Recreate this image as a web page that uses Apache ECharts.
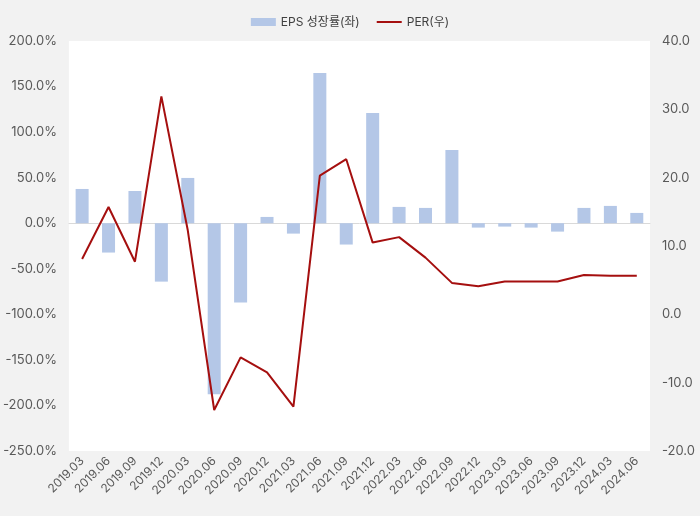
<!DOCTYPE html>
<html><head><meta charset="utf-8">
<script src="https://cdn.jsdelivr.net/npm/echarts@6/dist/echarts.min.js"></script>
<style>html,body{margin:0;padding:0;background:#f2f2f2}#c{width:700px;height:516px}</style>
</head><body><div id="c"></div>
<script>
const categories = ['2019.03','2019.06','2019.09','2019.12','2020.03','2020.06','2020.09','2020.12','2021.03','2021.06','2021.09','2021.12','2022.03','2022.06','2022.09','2022.12','2023.03','2023.06','2023.09','2023.12','2024.03','2024.06'];
const epsGrowth = [37.6,-32.2,35.4,-64.1,49.7,-187.7,-87.1,6.9,-11.4,165.0,-23.4,121.0,17.9,16.8,80.5,-4.8,-3.7,-4.8,-9.2,16.8,19.0,11.3];
const per = [8.1,15.7,7.7,31.9,12.3,-14.0,-6.3,-8.5,-13.5,20.3,22.7,10.5,11.3,8.3,4.6,4.1,4.8,4.8,4.8,5.75,5.65,5.65];
const leftTicks = {min:-250, max:200, interval:50};
const rightTicks = {min:-20, max:40, interval:10};

const chart = echarts.init(document.getElementById('c'));
const font = 'Inter, "Noto Sans CJK KR", sans-serif';
chart.setOption({
  backgroundColor:'#f2f2f2',
  textStyle:{fontFamily:font},
  legend:{top:11,left:'center',itemWidth:25,itemHeight:8,itemGap:17,
    textStyle:{fontSize:12,color:'#404040',fontFamily:font},
    data:[{name:'EPS 성장률(좌)',icon:'rect'},
          {name:'PER(우)',icon:'path://M0,0 L25,0 L25,2 L0,2 Z'}]},
  grid:{left:67,right:50,top:41,bottom:65,show:true,backgroundColor:'#ffffff',borderWidth:0},
  xAxis:{type:'category',data:categories,
    axisLine:{show:true,onZero:true,lineStyle:{color:'#d9d9d9',width:1}},
    axisTick:{show:false},
    axisLabel:{rotate:45,fontSize:12,color:'#595959',margin:8,interval:0,fontFamily:font},
    splitLine:{show:false}},
  yAxis:[
    {type:'value',min:leftTicks.min,max:leftTicks.max,interval:leftTicks.interval,
     axisLabel:{formatter:v=>v.toFixed(1)+'%',fontSize:13,color:'#595959',margin:12,fontFamily:font},
     axisLine:{show:false},axisTick:{show:false},splitLine:{show:false}},
    {type:'value',min:rightTicks.min,max:rightTicks.max,interval:rightTicks.interval,position:'right',
     axisLabel:{formatter:v=>v.toFixed(1),fontSize:13,color:'#595959',margin:12,fontFamily:font},
     axisLine:{show:false},axisTick:{show:false},splitLine:{show:false}}
  ],
  series:[
    {name:'EPS 성장률(좌)',type:'bar',data:epsGrowth,yAxisIndex:0,barWidth:13,
     itemStyle:{color:'#b4c7e7'}},
    {name:'PER(우)',type:'line',data:per,yAxisIndex:1,symbol:'none',
     lineStyle:{color:'#a50f0f',width:2},itemStyle:{color:'#a50f0f'}}
  ]
});
</script></body></html>
